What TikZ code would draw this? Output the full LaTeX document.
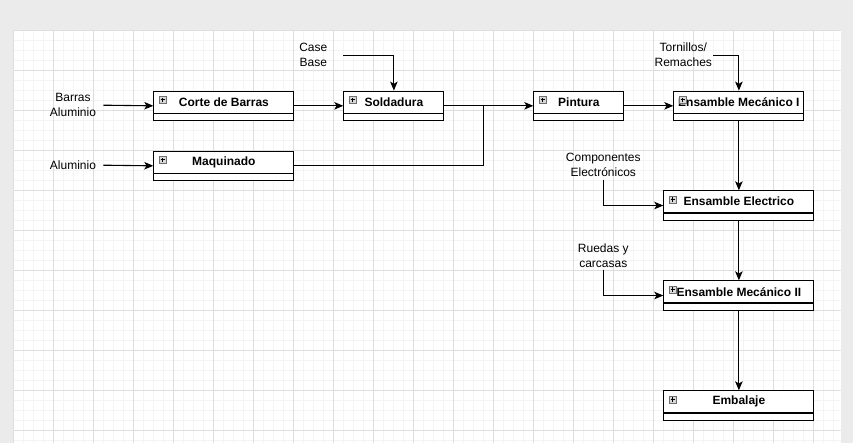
\documentclass[tikz,border=0pt]{standalone}
\usepackage{fontspec}
\setmainfont{Liberation Sans}
\usetikzlibrary{arrows.meta}
\definecolor{pagegray}{HTML}{EBEBEB}
\definecolor{gridmaj}{HTML}{DEDEDE}
\definecolor{gridmin}{HTML}{F4F4F4}
\definecolor{icongray}{HTML}{D8D8D8}
\definecolor{iconedge}{HTML}{707070}
\tikzset{
  box/.style={draw=black, line width=1.15pt, fill=white, inner sep=0pt, minimum height=29.3pt, anchor=north west},
  boxtitle/.style={font=\fontsize{12}{15}\selectfont\bfseries, inner sep=0pt},
  lbl/.style={font=\fontsize{12}{15}\selectfont, align=center, inner sep=0pt},
  icon/.style={draw=iconedge, fill=icongray, line width=0.6pt, minimum size=7.5pt, inner sep=0pt},
  conn/.style={draw=black, line width=1.1pt, -{Stealth[length=9pt,width=7.5pt,inset=2.2pt]}},
  plainconn/.style={draw=black, line width=1.1pt}
}
\newcommand\blockbox[5]{%
  \node[box, minimum width=#4pt] (#1) at (#2,#3) {};
  \draw[line width=1.15pt] ([yshift=-22.7pt]#1.north west) -- ([yshift=-22.7pt]#1.north east);
  \node[boxtitle] at ([yshift=-11.4pt]#1.north) {#5};
  \node[icon] (#1i) at ([xshift=9.5pt,yshift=-9.3pt]#1.north west) {};
  \draw[line width=0.8pt] ([xshift=-2.3pt]#1i.center) -- ([xshift=2.3pt]#1i.center);
  \draw[line width=0.8pt] ([yshift=-2.3pt]#1i.center) -- ([yshift=2.3pt]#1i.center);
}
\begin{document}
\begin{tikzpicture}[x=1pt,y=-1pt]
\useasboundingbox (0,0) rectangle (853,443);
% page background
\fill[pagegray] (0,0) rectangle (853,443);
\fill[black!8] (11.7,29) rectangle (841.7,443);
\fill[white] (12.7,30) rectangle (840.7,443);
\begin{scope}
\clip (12.7,30) rectangle (840.7,443);
\foreach \i in {0,...,83} {\draw[gridmin, line width=0.8pt] (13.3+10*\i,30) -- (13.3+10*\i,443);}
\foreach \j in {0,...,42} {\draw[gridmin, line width=0.8pt] (12.7,30+10*\j) -- (840.7,30+10*\j);}
\foreach \i in {0,...,21} {\draw[gridmaj, line width=0.8pt] (13.3+40*\i,30) -- (13.3+40*\i,443);}
\foreach \j in {0,...,11} {\draw[gridmaj, line width=0.8pt] (12.7,30+40*\j) -- (840.7,30+40*\j);}
\end{scope}

% blocks
\blockbox{corte}{153.3}{90.6}{140}{Corte de Barras}
\blockbox{maq}{153.3}{150.6}{140}{Maquinado}
\blockbox{sold}{343.3}{90.6}{100}{Soldadura}
\blockbox{pint}{533.3}{90.6}{90}{Pintura}
\blockbox{mec1}{673.3}{90.6}{130}{Ensamble Mecánico I}
\blockbox{elec}{663.3}{190.3}{150}{Ensamble Electrico}
\blockbox{mec2}{663.3}{280.3}{150}{Ensamble Mecánico II}
\blockbox{emb}{663.3}{390.3}{150}{Embalaje}

% input labels
\node[lbl] (barras) at (73,105.3) {Barras\\Aluminio};
\node[lbl] (alum) at (73,165.2) {Aluminio};
\node[lbl] (case) at (313.3,55.2) {Case\\Base};
\node[lbl] (torn) at (683.3,55.2) {Tornillos/\\Remaches};
\node[lbl] (comp) at (603.3,164.8) {Componentes\\Electrónicos};
\node[lbl] (rued) at (603.3,255.5) {Ruedas y\\carcasas};

\coordinate (barrasout) at (103.3,105.2);
\coordinate (alumout) at (103.3,165.2);
\coordinate (caseout) at (343.3,55.7);
\coordinate (tornout) at (713.3,55.7);
\coordinate (compout) at (603.3,180);
\coordinate (ruedout) at (603.3,270);
\coordinate (join) at (483.3,105.2);

% connectors
\draw[conn] (barrasout) -- (corte.west);
\draw[conn] (alumout) -- (maq.west);
\draw[conn] (corte.east) -- (sold.west);
\draw[conn] (caseout) -| (sold.north);
\draw[conn] (sold.east) -- (pint.west);
\draw[plainconn] (maq.east) -| (join);
\draw[conn] (pint.east) -- (mec1.west);
\draw[conn] (tornout) -| (mec1.north);
\draw[conn] (mec1.south) -- (elec.north);
\draw[conn] (compout) |- (elec.west);
\draw[conn] (elec.south) -- (mec2.north);
\draw[conn] (ruedout) |- (mec2.west);
\draw[conn] (mec2.south) -- (emb.north);
\end{tikzpicture}
\end{document}
